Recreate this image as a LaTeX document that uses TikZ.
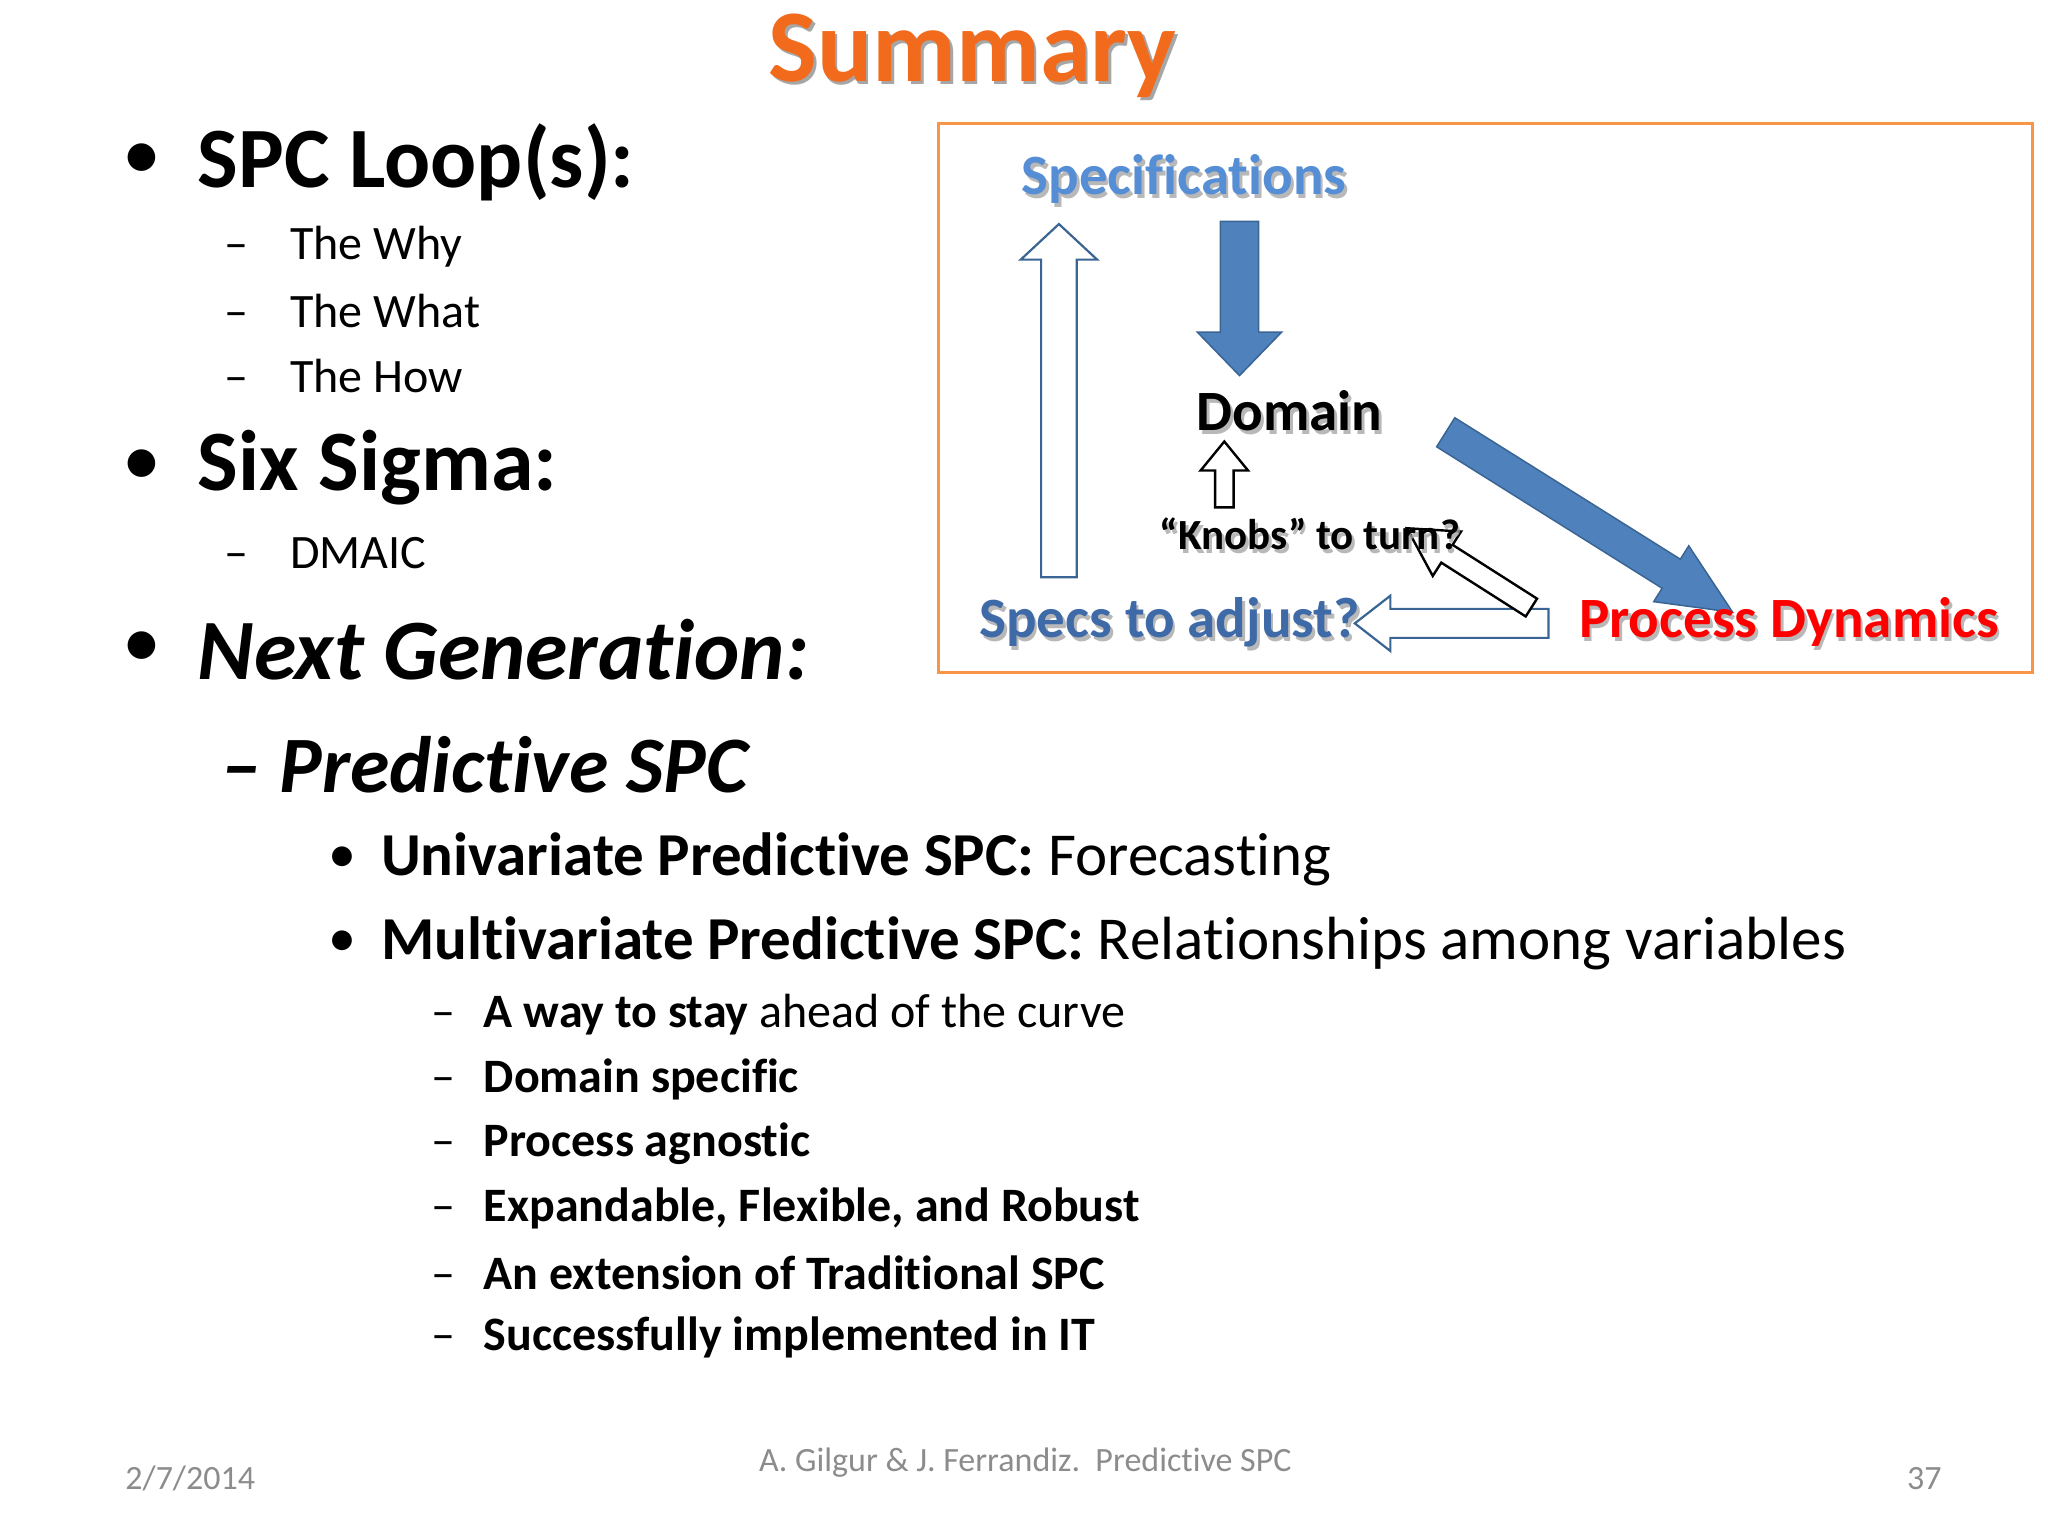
\documentclass[tikz,border=0pt]{standalone}
\usepackage{fontspec}
\setmainfont{Carlito}[RawFeature={-liga;-dlig;-calt;-clig}]
\newcommand{\fs}[1]{\fontsize{#1}{#1}\selectfont}
\definecolor{ttl}{HTML}{F26B1D}
\definecolor{boxc}{HTML}{F79646}
\definecolor{specb}{HTML}{558ED5}
\definecolor{adjb}{HTML}{3F6AA8}
\definecolor{arrb}{HTML}{4F81BD}
\definecolor{arrd}{HTML}{3A6593}
\definecolor{foot}{HTML}{8C8C8C}
% style, tailx, taily, angle, length, halfshaft, halfhead, headlen
\newcommand{\fatarr}[8]{%
\begin{scope}[shift={(#2,#3)},rotate=#4]
\draw[#1] (0,-#6)--({#5-#8},-#6)--({#5-#8},-#7)--(#5,0)--({#5-#8},#7)--({#5-#8},#6)--(0,#6)--cycle;
\end{scope}}
\begin{document}
\begin{tikzpicture}[x=1.318pt,y=-1.318pt,
  txt/.style={anchor=west,inner sep=0pt},
  shd/.style={anchor=west,inner sep=0pt,text=black!35,opacity=0.8},
  hollowb/.style={draw=arrd,fill=white,line width=2.2pt,line join=miter},
  filledb/.style={draw=arrd,fill=arrb,line width=1.5pt},
  hollowk/.style={draw=black,fill=white,line width=2.4pt}]
\useasboundingbox (0,0) rectangle (1554,1166);
% title
\node[inner sep=0pt,text=black!35] at (740,45) {\fs{103}\bfseries Summary};
\node[inner sep=0pt,text=ttl] (title) at (738,42) {\fs{103}\bfseries Summary};
% left bullets
\node[txt] (b1) at (93,123) {\fs{78}•};
\node[txt] (t1) at (150,123) {\fs{86}\bfseries SPC Loop(s):};
\foreach \yy/\tt [count=\i] in {187/The Why,236/The What,285/The How,420/DMAIC}{
  \node[txt] (s\i) at (170,\yy) {\fs{48}\makebox[66pt][l]{–}\tt};}
\node[txt] (b2) at (93,355) {\fs{78}•};
\node[txt] (t2) at (150,355) {\fs{86}\bfseries Six Sigma:};
\node[txt] (b3) at (93,493) {\fs{78}•};
\node[txt] (t3) at (150,493) {\fs{86}\bfseries\itshape Next Generation:};
\node[txt] (t4) at (168,580) {\fs{80}\bfseries\itshape – Predictive SPC};
\node[txt] (b5) at (249,652) {\fs{56}•};
\node[txt] (t5) at (289,652) {\fs{61}\textbf{Univariate Predictive SPC:} Forecasting};
\node[txt] (b6) at (249,716) {\fs{56}•};
\node[txt] (t6) at (289,716) {\fs{61}\textbf{Multivariate Predictive SPC:} Relationships among variables};
\foreach \yy/\tt [count=\i] in {770/{\textbf{A way to stay} ahead of the curve},819/\textbf{Domain specific},868/\textbf{Process agnostic},917/{\textbf{Expandable, Flexible, and Robust}},966/\textbf{An extension of Traditional SPC},1015/\textbf{Successfully implemented in IT}}{
  \node[txt] (f\i) at (327,\yy) {\fs{48}\makebox[52.7pt][l]{–}\tt};}
% footer
\node[txt,text=foot] (date) at (95,1122) {\fs{34}2/7/2014};
\node[inner sep=0pt,text=foot] (auth) at (778,1110) {\fs{34}A. Gilgur \& J. Ferrandiz.\ \ Predictive SPC};
\node[txt,text=foot] (pg) at (1447,1122) {\fs{34}37};
% box
\draw[boxc,line width=3.2pt] (712,94) rectangle (1542,510);
% arrows
\fatarr{hollowb}{803.5}{438}{90}{268}{13.5}{29}{27}
\fatarr{filledb}{940.5}{168}{-90}{117}{14.5}{32}{33}
\fatarr{hollowk}{929}{385}{90}{50}{7}{18}{22}
\fatarr{filledb}{1097}{328}{-32.1}{257}{13}{25}{55}
\fatarr{hollowb}{1175}{473}{180}{147}{11}{21}{27}
\fatarr{hollowk}{1162}{461}{147.5}{112}{8}{20}{36}
% diagram texts
\node[shd] at (777,139) {\fs{57}\bfseries Specifications};
\node[txt,text=specb] (spec) at (775,136) {\fs{57}\bfseries Specifications};
\node[shd] at (910,315) {\fs{57}\bfseries Domain};
\node[txt] (dom) at (908,312) {\fs{57}\bfseries Domain};
\node[shd] at (882,408) {\fs{43}\bfseries “Knobs” to turn?};
\node[txt] (knob) at (880,405) {\fs{43}\bfseries “Knobs” to turn?};
\node[shd] at (745,475) {\fs{57}\bfseries Specs to adjust?};
\node[txt,text=adjb] (adj) at (743,472) {\fs{57}\bfseries Specs to adjust?};
\node[shd] at (1200,475) {\fs{57}\bfseries Process Dynamics};
\node[txt,text=red] (pd) at (1198,472) {\fs{57}\bfseries Process Dynamics};
\end{tikzpicture}
\end{document}
